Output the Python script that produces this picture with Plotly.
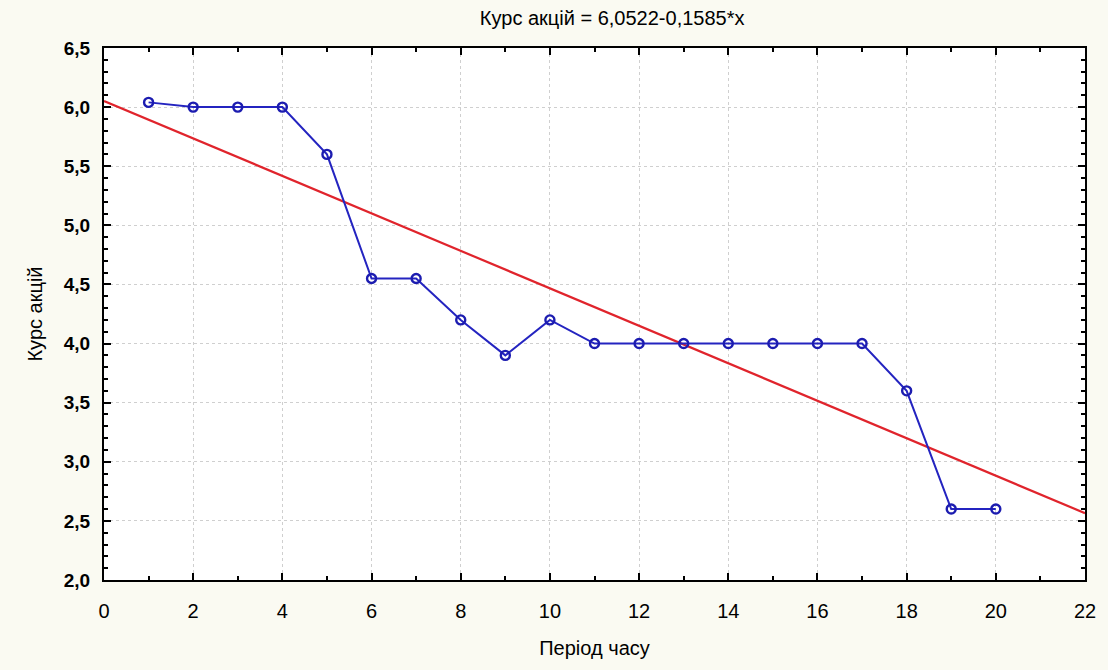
import plotly.graph_objects as go

period = list(range(1, 21))
price = [6.04, 6.0, 6.0, 6.0, 5.6, 4.55, 4.55, 4.2, 3.9, 4.2,
         4.0, 4.0, 4.0, 4.0, 4.0, 4.0, 4.0, 3.6, 2.6, 2.6]
intercept = 6.0522
slope = -0.1585
fit_x = [0, 22]
fit_y = [intercept + slope * x for x in fit_x]

title_text = "Курс акцій = 6,0522-0,1585*x"
x_title = "Період часу"
y_title = "Курс акцій"

FONT = "Liberation Sans, Arial"

fig = go.Figure()
fig.add_trace(go.Scatter(x=fit_x, y=fit_y, mode="lines",
                         line=dict(color="#e0242c", width=2.2), showlegend=False))
fig.add_trace(go.Scatter(x=period, y=price, mode="lines+markers",
                         line=dict(color="#2424c0", width=2),
                         marker=dict(symbol="circle-open", size=9, color="#1c1cb0",
                                     line=dict(width=2.4, color="#1c1cb0")),
                         showlegend=False))

axis_common = dict(showline=True, linecolor="black", linewidth=2, mirror="ticks",
                   ticks="inside", tickcolor="black", ticklen=7, tickwidth=1.5,
                   showgrid=True, gridcolor="#cfcfcf", griddash="dot", gridwidth=1,
                   zeroline=False)

fig.update_xaxes(range=[0, 22], dtick=2, tick0=0, ticklabelstandoff=12,
                 tickfont=dict(family=FONT, size=20, color="#000"),
                 minor=dict(dtick=1, ticks="inside", ticklen=4, tickcolor="black", showgrid=False),
                 title=dict(text=x_title, font=dict(family=FONT, size=20, color="#000"), standoff=20),
                 **axis_common)
fig.update_yaxes(range=[2.0, 6.5], dtick=0.5, tick0=2.0, tickformat=".1f", ticklabelstandoff=8,
                 tickfont=dict(family=FONT, size=19, color="#000", weight="bold"),
                 minor=dict(dtick=0.1, ticks="inside", ticklen=4, tickcolor="black", showgrid=False),
                 title=dict(text=y_title, font=dict(family=FONT, size=20, color="#000"), standoff=16),
                 **axis_common)

fig.update_layout(
    width=1108, height=670,
    margin=dict(l=104, r=17, t=48, b=90),
    paper_bgcolor="#fafaf2", plot_bgcolor="white",
    separators=", ",
    title=dict(text=title_text, x=0.518, xref="paper", xanchor="center",
               y=0.973, yref="container", yanchor="middle",
               font=dict(family=FONT, size=20, color="#000")),
)

fig.write_html("out.html")
